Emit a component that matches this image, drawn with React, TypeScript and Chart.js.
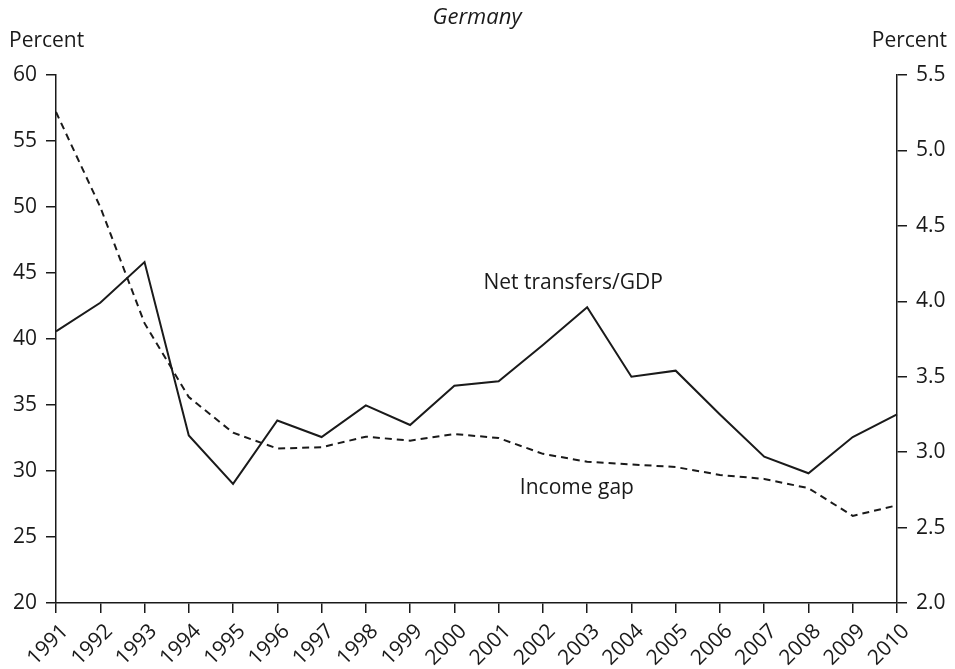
import React, { useEffect, useRef } from "react";
import { Chart, registerables } from "chart.js";

Chart.register(...registerables);

const years = ["1991","1992","1993","1994","1995","1996","1997","1998","1999","2000","2001","2002","2003","2004","2005","2006","2007","2008","2009","2010"];
// Income gap (left axis, percent)
const incomeGap = [57.2, 50.0, 41.2, 35.6, 32.9, 31.7, 31.8, 32.6, 32.3, 32.8, 32.5, 31.3, 30.7, 30.5, 30.3, 29.7, 29.4, 28.7, 26.6, 27.4];
// Net transfers/GDP (right axis, percent)
const netTransfers = [3.80, 3.99, 4.26, 3.11, 2.79, 3.21, 3.10, 3.31, 3.18, 3.44, 3.47, 3.71, 3.96, 3.50, 3.54, 3.25, 2.97, 2.86, 3.10, 3.25];

const title = "Germany";
const axisLabel = "Percent";
const netLabel = "Net transfers/GDP";
const gapLabel = "Income gap";

const FONT = "'Open Sans', 'DejaVu Sans', sans-serif";
const INK = "#1a1a1a";
const FS = 21;

export default function App() {
  const ref = useRef<HTMLCanvasElement | null>(null);
  useEffect(() => {
    document.body.style.margin = "0";
    const textPlugin = {
      id: "texts",
      afterDraw(chart: any) {
        const ctx = chart.ctx;
        const xs = chart.scales.x;
        const yr = chart.scales.y1;
        ctx.save();
        ctx.fillStyle = INK;
        ctx.textBaseline = "middle";
        ctx.font = `italic 22px ${FONT}`;
        ctx.textAlign = "center";
        ctx.fillText(title, 477, 18);
        ctx.font = `${FS}px ${FONT}`;
        ctx.textAlign = "left";
        ctx.fillText(axisLabel, 9, 41);
        ctx.textAlign = "right";
        ctx.fillText(axisLabel, 947, 41);
        ctx.textAlign = "center";
        const x03 = xs.getPixelForValue(12);
        const x02 = xs.getPixelForValue(11);
        ctx.fillText(netLabel, x03 - 14, yr.getPixelForValue(netTransfers[12]) - 24);
        ctx.fillText(gapLabel, x02 + 34, chart.scales.y.getPixelForValue(incomeGap[12]) + 26);
        ctx.restore();
      },
    };
    const chart = new Chart(ref.current as HTMLCanvasElement, {
      type: "line",
      data: {
        labels: years,
        datasets: [
          {
            label: gapLabel,
            data: incomeGap,
            yAxisID: "y",
            borderColor: INK,
            borderWidth: 2,
            borderDash: [7, 5],
            pointRadius: 0,
            tension: 0,
            fill: false,
          },
          {
            label: netLabel,
            data: netTransfers,
            yAxisID: "y1",
            borderColor: INK,
            borderWidth: 2,
            pointRadius: 0,
            tension: 0,
            fill: false,
          },
        ],
      },
      options: {
        responsive: false,
        animation: false,
        layout: { padding: { top: 75, left: 0, right: 0, bottom: 0 } },
        plugins: { legend: { display: false }, tooltip: { enabled: false }, title: { display: false } },
        scales: {
          x: {
            offset: false,
            grid: { drawOnChartArea: false, drawTicks: true, tickLength: 10, color: INK, lineWidth: 1.5 },
            border: { display: true, color: INK, width: 1.5 },
            ticks: {
              color: INK,
              font: { family: FONT, size: FS },
              maxRotation: 45,
              minRotation: 45,
              autoSkip: false,
              padding: 6,
              labelOffset: 9,
            },
            afterFit(s: any) { s.height = 66; },
          },
          y: {
            position: "left",
            min: 20,
            max: 60,
            grid: { drawOnChartArea: false, drawTicks: true, tickLength: 10, color: INK, lineWidth: 1.5 },
            border: { display: true, color: INK, width: 1.5 },
            ticks: { stepSize: 5, color: INK, font: { family: FONT, size: FS }, padding: 9 },
            afterFit(s: any) { s.width = 56; },
          },
          y1: {
            position: "right",
            min: 2.0,
            max: 5.5,
            grid: { drawOnChartArea: false, drawTicks: true, tickLength: 10, color: INK, lineWidth: 1.5 },
            border: { display: true, color: INK, width: 1.5 },
            ticks: {
              stepSize: 0.5,
              color: INK,
              font: { family: FONT, size: FS },
              padding: 9,
              callback: (v: any) => Number(v).toFixed(1),
            },
            afterFit(s: any) { s.width = 58; },
          },
        },
      },
      plugins: [textPlugin],
    } as any);
    return () => chart.destroy();
  }, []);
  return (
    <div style={{ position: "relative", width: 955, height: 669, background: "#fff" }}>
      <canvas ref={ref} width={955} height={669} style={{ display: "block" }} />
    </div>
  );
}
